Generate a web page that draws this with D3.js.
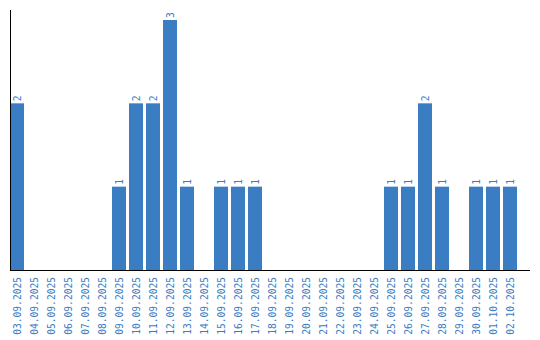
<!DOCTYPE html>
<html>
<head>
<meta charset="utf-8">
<script src="https://cdn.jsdelivr.net/npm/d3@7"></script>
<style>
  body { margin: 0; background: #fff; }
  svg text { font-family: "DejaVu Sans Mono", "Liberation Mono", monospace; font-size: 9.6px; fill: #3a7dc3; }
</style>
</head>
<body>
<div id="chart"></div>
<script>
// Data
var dates = ['03.09.2025', '04.09.2025', '05.09.2025', '06.09.2025', '07.09.2025',
             '08.09.2025', '09.09.2025', '10.09.2025', '11.09.2025', '12.09.2025',
             '13.09.2025', '14.09.2025', '15.09.2025', '16.09.2025', '17.09.2025',
             '18.09.2025', '19.09.2025', '20.09.2025', '21.09.2025', '22.09.2025',
             '23.09.2025', '24.09.2025', '25.09.2025', '26.09.2025', '27.09.2025',
             '28.09.2025', '29.09.2025', '30.09.2025', '01.10.2025', '02.10.2025'];
var counts = [2, 0, 0, 0, 0,
              0, 1, 2, 2, 3,
              1, 0, 1, 1, 1,
              0, 0, 0, 0, 0,
              0, 0, 1, 1, 2,
              1, 0, 1, 1, 1];

var width = 540, height = 340;
var plotLeft = 10, plotBottom = 270, plotTop = 10;
var barColor = '#3a7dc3';

var svg = d3.select('#chart')
            .append('svg')
            .attr('width', width)
            .attr('height', height);

var x = d3.scaleBand()
          .domain(dates)
          .range([plotLeft, plotLeft + dates.length * 17 - 3])
          .paddingInner(3 / 17)
          .paddingOuter(0);

var maxY = d3.max(counts);
var y = d3.scaleLinear()
          .domain([0, maxY * 1.04])
          .range([plotBottom, plotTop]);

var data = dates.map(function(d, i) { return { date: d, value: counts[i] }; });
var nonZero = data.filter(function(d) { return d.value > 0; });

// Bars
svg.selectAll('rect.bar')
   .data(nonZero)
   .enter()
   .append('rect')
   .attr('class', 'bar')
   .attr('x', function(d) { return x(d.date); })
   .attr('width', x.bandwidth())
   .attr('y', function(d) { return y(d.value); })
   .attr('height', function(d) { return plotBottom - y(d.value); })
   .attr('fill', barColor);

// Value labels
svg.selectAll('text.value')
   .data(nonZero)
   .enter()
   .append('text')
   .attr('class', 'value')
   .attr('transform', function(d) {
     return 'translate(' + (x(d.date) + x.bandwidth() / 2 + 3.5) + ',' + (y(d.value) - 2) + ') rotate(-90)';
   })
   .attr('text-anchor', 'start')
   .text(function(d) { return d.value; });

// X axis
var xAxis = svg.append('g')
               .attr('transform', 'translate(0,' + plotBottom + ')')
               .call(d3.axisBottom(x).tickSize(0).tickPadding(0));
xAxis.select('.domain').remove();
xAxis.selectAll('text')
     .attr('font-family', null)
     .attr('font-size', null)
     .attr('fill', null)
     .attr('dy', null)
     .attr('text-anchor', 'end')
     .attr('transform', 'translate(3.5,7) rotate(-90)')
     .attr('y', 0);

svg.append('line')
   .attr('x1', plotLeft).attr('x2', 530)
   .attr('y1', plotBottom + 0.5).attr('y2', plotBottom + 0.5)
   .attr('stroke', '#000');

// Y axis line
svg.append('line')
   .attr('x1', plotLeft + 0.5).attr('x2', plotLeft + 0.5)
   .attr('y1', plotTop).attr('y2', plotBottom)
   .attr('stroke', '#000');
</script>
</body>
</html>
